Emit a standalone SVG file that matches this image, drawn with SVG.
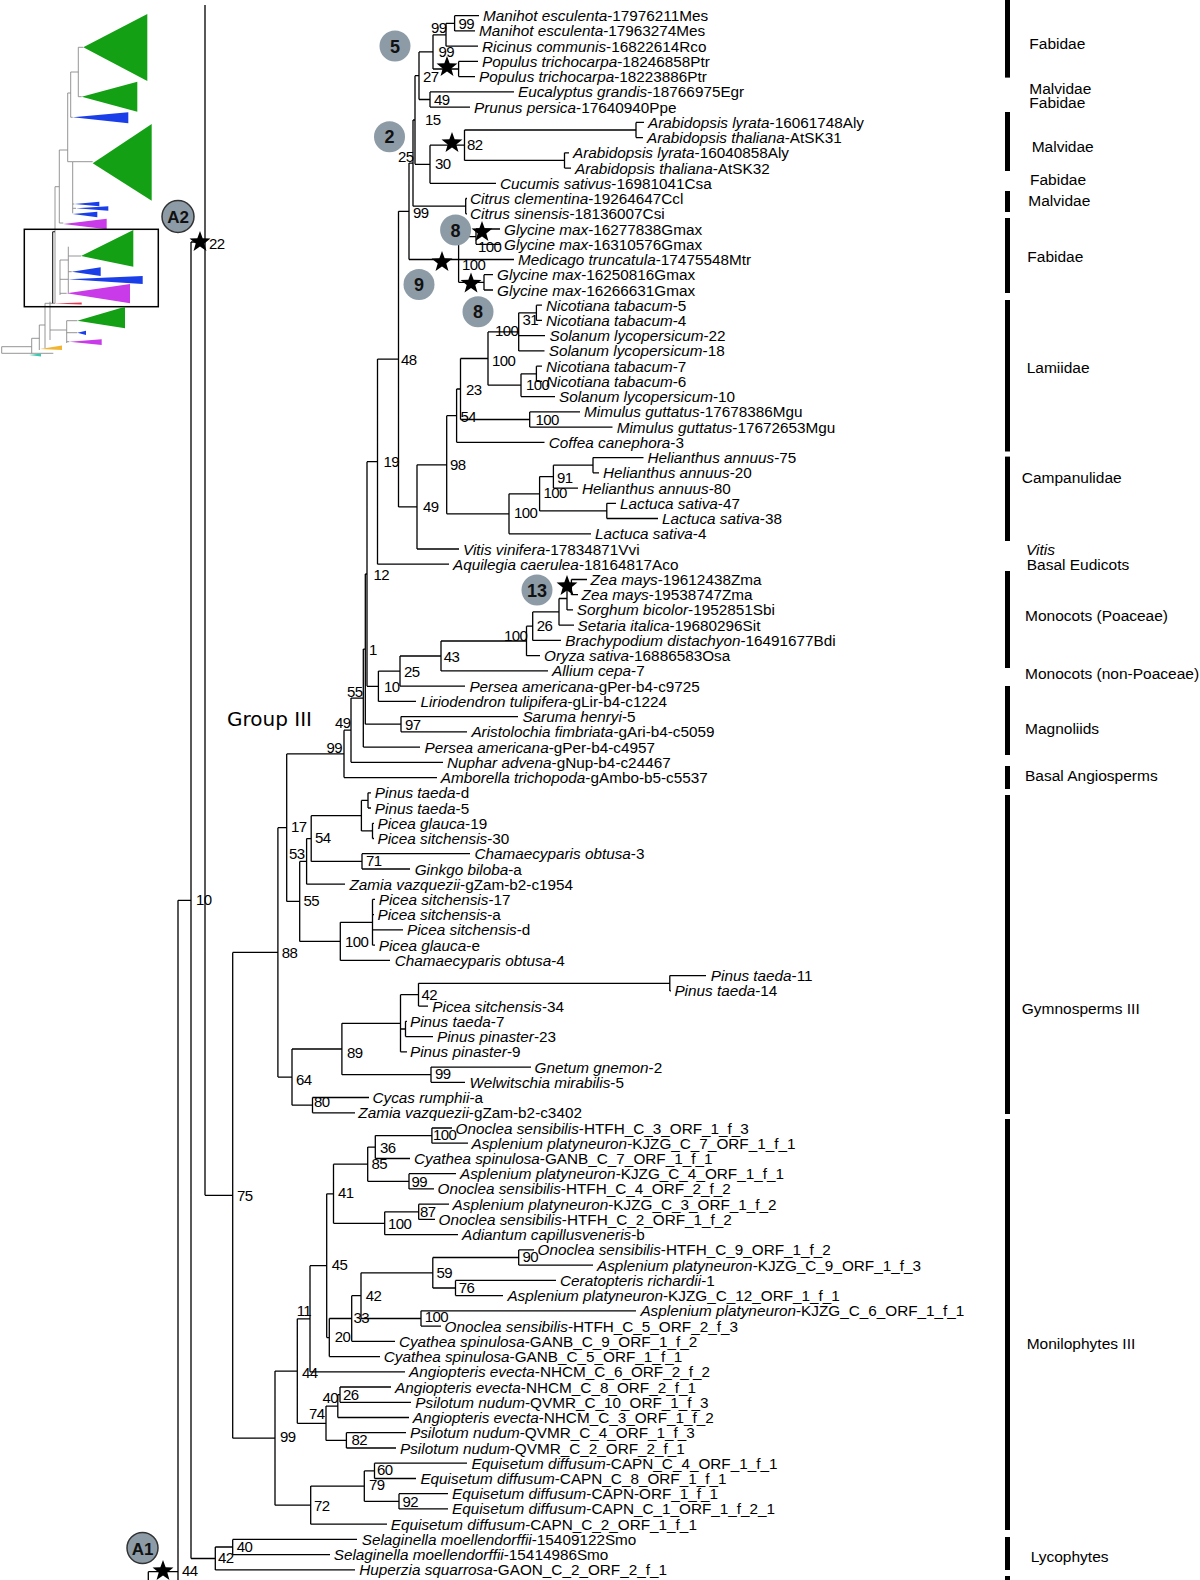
<svg xmlns="http://www.w3.org/2000/svg" width="1200" height="1580" viewBox="0 0 1200 1580">
<style>
.br{fill:none;stroke:#000;stroke-width:1.3}
.th{fill:none;stroke:#8a8a8a;stroke-width:0.9}
.l{font-family:"Liberation Sans",Arial,sans-serif;font-size:15.3px;fill:#000}
.i{font-style:italic}
.s{font-family:"Liberation Sans",Arial,sans-serif;font-size:15px;letter-spacing:-0.6px;fill:#000}
.c{font-family:"Liberation Sans",Arial,sans-serif;font-size:15.5px;fill:#000}
.bar{fill:#000}
.bd{fill:#8d9ba6}
.bdo{fill:#8d9ba6;stroke:#333;stroke-width:1.5}
.bt{font-family:"Liberation Sans",Arial,sans-serif;font-weight:bold;font-size:18px;text-anchor:middle;fill:#111}
.st{fill:#000}
.g{fill:#14a014}
.b{fill:#1a3ee8}
.m{fill:#c93be8}
</style>
<defs>
<path id="star" d="M0,-11 L2.645,-3.64 L10.46,-3.4 L4.28,1.39 L6.47,8.9 L0,4.5 L-6.47,8.9 L-4.28,1.39 L-10.46,-3.4 L-2.645,-3.64 Z"/>
</defs>

<g id="thumbnail">
<path class="th" d="M78.3,47.3V96.7 M78.3,47.3H83.3 M78.3,96.7H81.7 M70.7,72V117.3 M70.7,72H78.3 M70.7,117.3H72.7 M67.7,93V150 M67.7,93H70.7 M59.3,150V223 M59.3,150H67.7 M59.3,223H63.3 M72.7,161.7V213.3 M72.7,161.7H92.7 M67.7,150V161.7 M67.7,161.7H72.7 M72.7,204H74.3 M72.7,208.3H76 M72.7,213.3H72.7 M55,186.7V303.3 M55,186.7H59.3 M68.3,246.7V293.3 M68.3,256H81 M68.3,271.7H71.7 M60,260V295 M60,260H68.3 M60,279.3H68.3 M60,293.3H66.7 M53,303.3H55 M50,301.7V340 M45,303.3V348 M45,303.3H53 M39.3,325V350 M39.3,325H45 M31.7,338.3V353.3 M31.7,338.3H39.3 M1.7,346.7V353.3 M1.7,346.7H31.7 M1.7,353.3H53.3 M66.7,320.7V343 M66.7,320.7H77.3 M66.7,332.7H77.3 M66.7,341.7H69.3 M50,330H66.7"/>
<path d="M52.7,231.7V303.3 M52.7,231.7H55" fill="none" stroke="#111" stroke-width="1.1"/>
<polygon class="g" points="83.3,47.3 147.3,14 147.3,81"/>
<polygon class="g" points="81.7,96.7 137.3,81.7 137.3,111.7"/>
<polygon class="b" points="72.7,117.3 128.3,112.3 128.3,123.3"/>
<polygon class="g" points="92.7,163.3 151.7,124 151.7,200.7"/>
<polygon class="b" points="74.3,204 99.3,201.7 99.3,206.3"/>
<polygon class="b" points="76,208.3 108.3,206.3 108.3,210.7"/>
<polygon class="b" points="72.7,214 97.3,211.7 97.3,217.3"/>
<polygon class="m" points="63.3,224 106.7,218.7 106.7,229.3"/>
<rect x="24.3" y="229.3" width="134" height="77.4" fill="none" stroke="#000" stroke-width="1.5"/>
<polygon class="g" points="81,256 133.3,230 133.3,266.7"/>
<polygon class="b" points="71.7,271.7 100.7,267.3 100.7,276"/>
<polygon class="b" points="68.3,279.3 142.7,276 142.7,284"/>
<polygon class="m" points="66.7,293.3 130,284 130,303.3"/>
<polygon fill="#e8384f" points="53.3,303.4 81.7,302.6 81.7,304.6"/>
<polygon class="g" points="77.3,320.7 125,306.7 125,328.3"/>
<polygon class="b" points="77.3,332.7 86,330.7 86,335"/>
<polygon class="m" points="69.3,341.7 101.7,339.3 101.7,345"/>
<polygon fill="#f2b533" points="40,349 62,345.5 62,350"/>
<polygon fill="#3cc8b0" points="29,355 41,353.5 41,356.5"/>
</g>

<g id="connectors">
<path class="br" d="
M454.6,15.7V30.9 M454.6,15.7H479 M454.6,30.9H475
M446,23.3V46.2 M446,23.3H454.6 M446,46.2H478
M458.6,61.4V76.6 M458.6,61.4H478 M458.6,76.6H475
M433,34.8V69 M433,34.8H446 M433,69H458.6
M430,91.9V107.1 M430,91.9H514 M430,107.1H470
M419,51.9V99.5 M419,51.9H433 M419,99.5H430
M636,122.4V137.6 M636,122.4H644 M636,137.6H643
M564.5,152.8V168.1 M564.5,152.8H569 M564.5,168.1H571
M464.5,130V160.4 M464.5,130H636 M464.5,160.4H564.5
M430,145.2V183.3 M430,145.2H464.5 M430,183.3H496
M415,75.7V164.3 M415,75.7H419 M415,164.3H430
M465.7,198.5V213.8 M465.7,198.5H467 M465.7,213.8H467
M413,120V206.2 M413,120H415 M413,206.2H465.7
M476,229V244.3 M476,229H500 M476,244.3H500
M484,274.7V290 M484,274.7H493 M484,290H493
M458.6,236.6V282.3 M458.6,236.6H476 M458.6,259.5H514 M458.6,282.3H484
M409,163.1V259.5 M409,163.1H413 M409,259.5H458.6
M398.5,211.3V506.9 M398.5,211.3H409 M398.5,506.9H417
M536.4,305.2V320.4 M536.4,305.2H542 M536.4,320.4H542
M518.7,312.8V350.9 M518.7,312.8H536.4 M518.7,335.7H545 M518.7,350.9H544.5
M536.4,366.2V381.4 M536.4,366.2H542 M536.4,381.4H542
M521,373.8V396.6 M521,373.8H536.4 M521,396.6H555
M488,331.9V385.2 M488,331.9H518.7 M488,385.2H521
M529.7,411.9V427.1 M529.7,411.9H580 M529.7,427.1H612.5
M460.5,358.5V419.5 M460.5,358.5H488 M460.5,419.5H529.7
M456.6,389V442.3 M456.6,389H460.5 M456.6,442.3H544.5
M593,457.6V472.8 M593,457.6H643.5 M593,472.8H599
M553.4,465.2V488.1 M553.4,465.2H593 M553.4,488.1H578
M606.8,503.3V518.5 M606.8,503.3H616 M606.8,518.5H658
M539.6,476.6V510.9 M539.6,476.6H553.4 M539.6,510.9H606.8
M509,493.8V533.8 M509,493.8H539.6 M509,533.8H591
M446.7,415.7V513.8 M446.7,415.7H456.6 M446.7,513.8H509
M417,464.8V549 M417,464.8H446.7 M417,549H459
M377.5,359.1V564.2 M377.5,359.1H398.5 M377.5,564.2H449
M571.4,579.5V594.7 M571.4,579.5H587 M571.4,594.7H578
M567,587.1V609.9 M567,587.1H571.4 M567,609.9H573
M559,598.5V625.2 M559,598.5H567 M559,625.2H574
M532.7,611.9V640.4 M532.7,611.9H559 M532.7,640.4H561
M526.5,626.2V655.7 M526.5,626.2H532.7 M526.5,655.7H540
M441,641V670.9 M441,641H526.5 M441,670.9H548
M400,656V686.1 M400,656H441 M400,686.1H465
M378.4,671.1V701.4 M378.4,671.1H400 M378.4,701.4H416
M367,461.7V686.3 M367,461.7H377.5 M367,686.3H378.4
M401,716.6V731.8 M401,716.6H518 M401,731.8H467
M365.3,574V724.2 M365.3,574H367 M365.3,724.2H401
M363.3,649.1V747.1 M363.3,649.1H365.3 M363.3,747.1H420
M351,698.1V762.3 M351,698.1H363.3 M351,762.3H443
M344,730.2V777.6 M344,730.2H351 M344,777.6H437
M286.7,753.9V901.4 M286.7,753.9H344 M286.7,901.4H299.7
M368,792.8V808 M368,792.8H371 M368,808H371
M372.5,823.3V838.5 M372.5,823.3H374 M372.5,838.5H374
M361.4,800.4V830.9 M361.4,800.4H368 M361.4,830.9H372.5
M362,853.7V869 M362,853.7H470 M362,869H410
M311.2,815.7V861.4 M311.2,815.7H361.4 M311.2,861.4H362
M306.6,838.6V884.2 M306.6,838.6H311.2 M306.6,884.2H345
M372.5,899.4V945.2 M372.5,899.4H375 M372.5,914.7H374 M372.5,929.9H403 M372.5,945.2H375
M340.3,922.3V960.4 M340.3,922.3H372.5 M340.3,960.4H390
M299.7,861.4V941.4 M299.7,861.4H306.6 M299.7,941.4H340.3
M669.8,975.6V990.9 M669.8,975.6H706 M669.8,990.9H671
M418.5,983.3V1006.1 M418.5,983.3H669.8 M418.5,1006.1H428
M405.5,1021.3V1036.6 M405.5,1021.3H407 M405.5,1036.6H433
M400.5,994.7V1051.8 M400.5,994.7H418.5 M400.5,1029H405.5 M400.5,1051.8H407
M431,1067.1V1082.3 M431,1067.1H531 M431,1082.3H465
M341.9,1023.3V1074.7 M341.9,1023.3H400.5 M341.9,1074.7H431
M312.5,1097.5V1112.8 M312.5,1097.5H369 M312.5,1112.8H355
M292,1049V1105.2 M292,1049H341.9 M292,1105.2H312.5
M277.9,827.7V1077.1 M277.9,827.7H286.7 M277.9,1077.1H292
M232.7,952.4V1438.2 M232.7,952.4H277.9 M232.7,1438.2H275
M431.9,1128V1143.2 M431.9,1128H452 M431.9,1143.2H468
M375.3,1135.6V1158.5 M375.3,1135.6H431.9 M375.3,1158.5H410
M409,1173.7V1188.9 M409,1173.7H456 M409,1188.9H434
M367.7,1147.1V1181.3 M367.7,1147.1H375.3 M367.7,1181.3H409
M418.7,1204.2V1219.4 M418.7,1204.2H449 M418.7,1219.4H435
M384.7,1211.8V1234.7 M384.7,1211.8H418.7 M384.7,1234.7H458
M333.5,1164.2V1223.3 M333.5,1164.2H367.7 M333.5,1223.3H384.7
M518.7,1249.9V1265.1 M518.7,1249.9H534 M518.7,1265.1H593
M455.5,1280.4V1295.6 M455.5,1280.4H556 M455.5,1295.6H503
M432.8,1257.5V1288 M432.8,1257.5H518.7 M432.8,1288H455.5
M421,1310.8V1326.1 M421,1310.8H636 M421,1326.1H441
M361,1272.8V1318.5 M361,1272.8H432.8 M361,1318.5H421
M351.7,1295.7V1341.3 M351.7,1295.7H361 M351.7,1341.3H395
M329.3,1318.5V1356.6 M329.3,1318.5H351.7 M329.3,1356.6H380
M326.7,1193.8V1337.6 M326.7,1193.8H333.5 M326.7,1337.6H329.3
M310,1265.7V1371.8 M310,1265.7H326.7 M310,1371.8H405
M340,1387V1402.3 M340,1387H391 M340,1402.3H411
M337.8,1394.7V1417.5 M337.8,1394.7H340 M337.8,1417.5H409
M346.4,1432.7V1448 M346.4,1432.7H406 M346.4,1448H396
M326,1406.1V1440.4 M326,1406.1H337.8 M326,1440.4H346.4
M297.3,1318.8V1423.3 M297.3,1318.8H310 M297.3,1423.3H326
M374.5,1463.2V1478.5 M374.5,1463.2H467 M374.5,1478.5H416
M399,1493.7V1508.9 M399,1493.7H448 M399,1508.9H448
M364.3,1470.9V1501.3 M364.3,1470.9H374.5 M364.3,1501.3H399
M310.7,1486.1V1524.2 M310.7,1486.1H364.3 M310.7,1524.2H387
M275,1371.1V1505.2 M275,1371.1H297.3 M275,1505.2H310.7
M232.7,1539.4V1554.6 M232.7,1539.4H357 M232.7,1554.6H330
M215.3,1547V1569.9 M215.3,1547H232.7 M215.3,1569.9H355
M191,242V1558.5 M191,242H205 M191,1558.5H215.3
M205,5V1195.3 M205,1195.3H232.7
M178,900.3V1580 M178,900.3H191 M178,1571.7H148.3 M148.3,1571.7V1580
"/>
</g>

<g id="stars">
<use href="#star" class="st" x="447" y="67"/>
<use href="#star" class="st" x="452" y="143"/>
<use href="#star" class="st" x="482" y="232"/>
<use href="#star" class="st" x="442" y="262"/>
<use href="#star" class="st" x="471" y="283.5"/>
<use href="#star" class="st" x="567" y="586"/>
<use href="#star" class="st" x="200" y="242"/>
<use href="#star" class="st" x="163" y="1571"/>
</g>

<g id="badge-5"><circle class="bd" cx="395" cy="46" r="15.5"/><text class="bt" x="395" y="52.5">5</text></g>
<g id="badge-2"><circle class="bd" cx="389.5" cy="136.7" r="15.5"/><text class="bt" x="389.5" y="143.2">2</text></g>
<g id="badge-8a"><circle class="bd" cx="455.6" cy="230" r="15.5"/><text class="bt" x="455.6" y="236.5">8</text></g>
<g id="badge-9"><circle class="bd" cx="419" cy="284.5" r="15.5"/><text class="bt" x="419" y="291">9</text></g>
<g id="badge-8b"><circle class="bd" cx="478" cy="311.7" r="15.5"/><text class="bt" x="478" y="318.2">8</text></g>
<g id="badge-13"><circle class="bd" cx="537" cy="590" r="15.5"/><text class="bt" x="537" y="596.5">13</text></g>
<g id="badge-A2"><circle class="bdo" cx="178" cy="216.5" r="16"/><text class="bt" x="178" y="223" style="font-size:17px">A2</text></g>
<g id="badge-A1"><circle class="bdo" cx="142.5" cy="1548" r="15.5"/><text class="bt" x="142.5" y="1554.5" style="font-size:17px">A1</text></g>

<g id="group-label"><text x="227" y="725.5" style="font-family:'DejaVu Sans',sans-serif;font-size:20px">Group III</text></g>

<g id="support">
<text class="s" x="458.5" y="29">99</text>
<text class="s" x="431" y="32.5">99</text>
<text class="s" x="438.5" y="57">99</text>
<text class="s" x="423" y="82">27</text>
<text class="s" x="434" y="104.5">49</text>
<text class="s" x="425" y="125">15</text>
<text class="s" x="467" y="150">82</text>
<text class="s" x="435" y="168.5">30</text>
<text class="s" x="398" y="162">25</text>
<text class="s" x="413" y="218">99</text>
<text class="s" x="478" y="252">100</text>
<text class="s" x="462" y="270">100</text>
<text class="s" x="401" y="365">48</text>
<text class="s" x="522.6" y="325">31</text>
<text class="s" x="495" y="336">100</text>
<text class="s" x="492" y="365.7">100</text>
<text class="s" x="526" y="390">100</text>
<text class="s" x="466" y="395">23</text>
<text class="s" x="535.6" y="425">100</text>
<text class="s" x="460.5" y="422">54</text>
<text class="s" x="450" y="470">98</text>
<text class="s" x="557" y="483">91</text>
<text class="s" x="543.5" y="497.7">100</text>
<text class="s" x="514" y="518">100</text>
<text class="s" x="423" y="512">49</text>
<text class="s" x="383.5" y="467">19</text>
<text class="s" x="373.5" y="580">12</text>
<text class="s" x="536.7" y="631">26</text>
<text class="s" x="504" y="641">100</text>
<text class="s" x="443.7" y="661.7">43</text>
<text class="s" x="404" y="676.7">25</text>
<text class="s" x="384" y="692">10</text>
<text class="s" x="369" y="655">1</text>
<text class="s" x="347" y="697">55</text>
<text class="s" x="405" y="730">97</text>
<text class="s" x="335" y="728">49</text>
<text class="s" x="326.5" y="753">99</text>
<text class="s" x="291" y="832">17</text>
<text class="s" x="315" y="843">54</text>
<text class="s" x="289" y="859">53</text>
<text class="s" x="366" y="866">71</text>
<text class="s" x="303.6" y="906">55</text>
<text class="s" x="345" y="946.7">100</text>
<text class="s" x="281.7" y="957.7">88</text>
<text class="s" x="421.6" y="1000">42</text>
<text class="s" x="346.9" y="1057.7">89</text>
<text class="s" x="435" y="1079">99</text>
<text class="s" x="296" y="1085">64</text>
<text class="s" x="314" y="1106.7">80</text>
<text class="s" x="237" y="1201">75</text>
<text class="s" x="433" y="1140">100</text>
<text class="s" x="380" y="1153">36</text>
<text class="s" x="371.5" y="1169">85</text>
<text class="s" x="411.6" y="1186.7">99</text>
<text class="s" x="338" y="1198">41</text>
<text class="s" x="420" y="1216.7">87</text>
<text class="s" x="388" y="1229">100</text>
<text class="s" x="522.5" y="1261.7">90</text>
<text class="s" x="331.7" y="1270">45</text>
<text class="s" x="436.6" y="1277.7">59</text>
<text class="s" x="458.8" y="1293">76</text>
<text class="s" x="365.8" y="1301">42</text>
<text class="s" x="296.7" y="1315.6">11</text>
<text class="s" x="424.8" y="1321.7">100</text>
<text class="s" x="353.6" y="1323">33</text>
<text class="s" x="334.7" y="1342">20</text>
<text class="s" x="302" y="1377.7">44</text>
<text class="s" x="343" y="1400">26</text>
<text class="s" x="322.4" y="1403">40</text>
<text class="s" x="309" y="1419">74</text>
<text class="s" x="280" y="1442">99</text>
<text class="s" x="351.5" y="1445">82</text>
<text class="s" x="377" y="1475">60</text>
<text class="s" x="369" y="1490">79</text>
<text class="s" x="402.5" y="1506.7">92</text>
<text class="s" x="314" y="1511">72</text>
<text class="s" x="236.7" y="1552">40</text>
<text class="s" x="217.9" y="1563.3">42</text>
<text class="s" x="196" y="905">10</text>
<text class="s" x="209" y="248.5">22</text>
<text class="s" x="182" y="1576">44</text>
</g>

<g id="leaves">
<g id="t1"><text class="l" x="483" y="21.2"><tspan class="i">Manihot esculenta</tspan>-17976211Mes</text></g>
<g id="t2"><text class="l" x="479" y="36.4"><tspan class="i">Manihot esculenta</tspan>-17963274Mes</text></g>
<g id="t3"><text class="l" x="482" y="51.7"><tspan class="i">Ricinus communis</tspan>-16822614Rco</text></g>
<g id="t4"><text class="l" x="482" y="66.9"><tspan class="i">Populus trichocarpa</tspan>-18246858Ptr</text></g>
<g id="t5"><text class="l" x="479" y="82.2"><tspan class="i">Populus trichocarpa</tspan>-18223886Ptr</text></g>
<g id="t6"><text class="l" x="518" y="97.4"><tspan class="i">Eucalyptus grandis</tspan>-18766975Egr</text></g>
<g id="t7"><text class="l" x="474" y="112.6"><tspan class="i">Prunus persica</tspan>-17640940Ppe</text></g>
<g id="t8"><text class="l" x="648" y="127.9"><tspan class="i">Arabidopsis lyrata</tspan>-16061748Aly</text></g>
<g id="t9"><text class="l" x="647" y="143.1"><tspan class="i">Arabidopsis thaliana</tspan>-AtSK31</text></g>
<g id="t10"><text class="l" x="573" y="158.3"><tspan class="i">Arabidopsis lyrata</tspan>-16040858Aly</text></g>
<g id="t11"><text class="l" x="575" y="173.6"><tspan class="i">Arabidopsis thaliana</tspan>-AtSK32</text></g>
<g id="t12"><text class="l" x="500" y="188.8"><tspan class="i">Cucumis sativus</tspan>-16981041Csa</text></g>
<g id="t13"><text class="l" x="470" y="204"><tspan class="i">Citrus clementina</tspan>-19264647Ccl</text></g>
<g id="t14"><text class="l" x="470" y="219.3"><tspan class="i">Citrus sinensis</tspan>-18136007Csi</text></g>
<g id="t15"><text class="l" x="504" y="234.5"><tspan class="i">Glycine max</tspan>-16277838Gmax</text></g>
<g id="t16"><text class="l" x="504" y="249.8"><tspan class="i">Glycine max</tspan>-16310576Gmax</text></g>
<g id="t17"><text class="l" x="518" y="265"><tspan class="i">Medicago truncatula</tspan>-17475548Mtr</text></g>
<g id="t18"><text class="l" x="497" y="280.2"><tspan class="i">Glycine max</tspan>-16250816Gmax</text></g>
<g id="t19"><text class="l" x="497" y="295.5"><tspan class="i">Glycine max</tspan>-16266631Gmax</text></g>
<g id="t20"><text class="l" x="546" y="310.7"><tspan class="i">Nicotiana tabacum</tspan>-5</text></g>
<g id="t21"><text class="l" x="546" y="325.9"><tspan class="i">Nicotiana tabacum</tspan>-4</text></g>
<g id="t22"><text class="l" x="549.5" y="341.2"><tspan class="i">Solanum lycopersicum</tspan>-22</text></g>
<g id="t23"><text class="l" x="548.7" y="356.4"><tspan class="i">Solanum lycopersicum</tspan>-18</text></g>
<g id="t24"><text class="l" x="546" y="371.7"><tspan class="i">Nicotiana tabacum</tspan>-7</text></g>
<g id="t25"><text class="l" x="546" y="386.9"><tspan class="i">Nicotiana tabacum</tspan>-6</text></g>
<g id="t26"><text class="l" x="559" y="402.1"><tspan class="i">Solanum lycopersicum</tspan>-10</text></g>
<g id="t27"><text class="l" x="584" y="417.4"><tspan class="i">Mimulus guttatus</tspan>-17678386Mgu</text></g>
<g id="t28"><text class="l" x="616.7" y="432.6"><tspan class="i">Mimulus guttatus</tspan>-17672653Mgu</text></g>
<g id="t29"><text class="l" x="548.7" y="447.8"><tspan class="i">Coffea canephora</tspan>-3</text></g>
<g id="t30"><text class="l" x="647.5" y="463.1"><tspan class="i">Helianthus annuus</tspan>-75</text></g>
<g id="t31"><text class="l" x="603" y="478.3"><tspan class="i">Helianthus annuus</tspan>-20</text></g>
<g id="t32"><text class="l" x="582" y="493.6"><tspan class="i">Helianthus annuus</tspan>-80</text></g>
<g id="t33"><text class="l" x="620" y="508.8"><tspan class="i">Lactuca sativa</tspan>-47</text></g>
<g id="t34"><text class="l" x="662" y="524"><tspan class="i">Lactuca sativa</tspan>-38</text></g>
<g id="t35"><text class="l" x="595" y="539.3"><tspan class="i">Lactuca sativa</tspan>-4</text></g>
<g id="t36"><text class="l" x="463" y="554.5"><tspan class="i">Vitis vinifera</tspan>-17834871Vvi</text></g>
<g id="t37"><text class="l" x="453" y="569.7"><tspan class="i">Aquilegia caerulea</tspan>-18164817Aco</text></g>
<g id="t38"><text class="l" x="590.6" y="585"><tspan class="i">Zea mays</tspan>-19612438Zma</text></g>
<g id="t39"><text class="l" x="581.6" y="600.2"><tspan class="i">Zea mays</tspan>-19538747Zma</text></g>
<g id="t40"><text class="l" x="576.7" y="615.4"><tspan class="i">Sorghum bicolor</tspan>-1952851Sbi</text></g>
<g id="t41"><text class="l" x="577.6" y="630.7"><tspan class="i">Setaria italica</tspan>-19680296Sit</text></g>
<g id="t42"><text class="l" x="565.3" y="645.9"><tspan class="i">Brachypodium distachyon</tspan>-16491677Bdi</text></g>
<g id="t43"><text class="l" x="544" y="661.2"><tspan class="i">Oryza sativa</tspan>-16886583Osa</text></g>
<g id="t44"><text class="l" x="552" y="676.4"><tspan class="i">Allium cepa</tspan>-7</text></g>
<g id="t45"><text class="l" x="469.4" y="691.6"><tspan class="i">Persea americana</tspan>-gPer-b4-c9725</text></g>
<g id="t46"><text class="l" x="420.4" y="706.9"><tspan class="i">Liriodendron tulipifera</tspan>-gLir-b4-c1224</text></g>
<g id="t47"><text class="l" x="522.4" y="722.1"><tspan class="i">Saruma henryi</tspan>-5</text></g>
<g id="t48"><text class="l" x="471.4" y="737.3"><tspan class="i">Aristolochia fimbriata</tspan>-gAri-b4-c5059</text></g>
<g id="t49"><text class="l" x="424.5" y="752.6"><tspan class="i">Persea americana</tspan>-gPer-b4-c4957</text></g>
<g id="t50"><text class="l" x="447" y="767.8"><tspan class="i">Nuphar advena</tspan>-gNup-b4-c24467</text></g>
<g id="t51"><text class="l" x="440.8" y="783.1"><tspan class="i">Amborella trichopoda</tspan>-gAmbo-b5-c5537</text></g>
<g id="t52"><text class="l" x="374.8" y="798.3"><tspan class="i">Pinus taeda</tspan>-d</text></g>
<g id="t53"><text class="l" x="374.8" y="813.5"><tspan class="i">Pinus taeda</tspan>-5</text></g>
<g id="t54"><text class="l" x="377.5" y="828.8"><tspan class="i">Picea glauca</tspan>-19</text></g>
<g id="t55"><text class="l" x="377.5" y="844"><tspan class="i">Picea sitchensis</tspan>-30</text></g>
<g id="t56"><text class="l" x="474.4" y="859.2"><tspan class="i">Chamaecyparis obtusa</tspan>-3</text></g>
<g id="t57"><text class="l" x="414.7" y="874.5"><tspan class="i">Ginkgo biloba</tspan>-a</text></g>
<g id="t58"><text class="l" x="349.5" y="889.7"><tspan class="i">Zamia vazquezii</tspan>-gZam-b2-c1954</text></g>
<g id="t59"><text class="l" x="378.7" y="904.9"><tspan class="i">Picea sitchensis</tspan>-17</text></g>
<g id="t60"><text class="l" x="377.5" y="920.2"><tspan class="i">Picea sitchensis</tspan>-a</text></g>
<g id="t61"><text class="l" x="407" y="935.4"><tspan class="i">Picea sitchensis</tspan>-d</text></g>
<g id="t62"><text class="l" x="378.7" y="950.7"><tspan class="i">Picea glauca</tspan>-e</text></g>
<g id="t63"><text class="l" x="394.7" y="965.9"><tspan class="i">Chamaecyparis obtusa</tspan>-4</text></g>
<g id="t64"><text class="l" x="710.8" y="981.1"><tspan class="i">Pinus taeda</tspan>-11</text></g>
<g id="t65"><text class="l" x="674.4" y="996.4"><tspan class="i">Pinus taeda</tspan>-14</text></g>
<g id="t66"><text class="l" x="432.3" y="1011.6"><tspan class="i">Picea sitchensis</tspan>-34</text></g>
<g id="t67"><text class="l" x="410" y="1026.8"><tspan class="i">Pinus taeda</tspan>-7</text></g>
<g id="t68"><text class="l" x="437" y="1042.1"><tspan class="i">Pinus pinaster</tspan>-23</text></g>
<g id="t69"><text class="l" x="410" y="1057.3"><tspan class="i">Pinus pinaster</tspan>-9</text></g>
<g id="t70"><text class="l" x="534.6" y="1072.6"><tspan class="i">Gnetum gnemon</tspan>-2</text></g>
<g id="t71"><text class="l" x="469.5" y="1087.8"><tspan class="i">Welwitschia mirabilis</tspan>-5</text></g>
<g id="t72"><text class="l" x="372.5" y="1103"><tspan class="i">Cycas rumphii</tspan>-a</text></g>
<g id="t73"><text class="l" x="358.3" y="1118.3"><tspan class="i">Zamia vazquezii</tspan>-gZam-b2-c3402</text></g>
<g id="t74"><text class="l" x="455.5" y="1133.5"><tspan class="i">Onoclea sensibilis</tspan>-HTFH_C_3_ORF_1_f_3</text></g>
<g id="t75"><text class="l" x="471.5" y="1148.7"><tspan class="i">Asplenium platyneuron</tspan>-KJZG_C_7_ORF_1_f_1</text></g>
<g id="t76"><text class="l" x="414" y="1164"><tspan class="i">Cyathea spinulosa</tspan>-GANB_C_7_ORF_1_f_1</text></g>
<g id="t77"><text class="l" x="460" y="1179.2"><tspan class="i">Asplenium platyneuron</tspan>-KJZG_C_4_ORF_1_f_1</text></g>
<g id="t78"><text class="l" x="437.5" y="1194.4"><tspan class="i">Onoclea sensibilis</tspan>-HTFH_C_4_ORF_2_f_2</text></g>
<g id="t79"><text class="l" x="452.6" y="1209.7"><tspan class="i">Asplenium platyneuron</tspan>-KJZG_C_3_ORF_1_f_2</text></g>
<g id="t80"><text class="l" x="438.5" y="1224.9"><tspan class="i">Onoclea sensibilis</tspan>-HTFH_C_2_ORF_1_f_2</text></g>
<g id="t81"><text class="l" x="462" y="1240.2"><tspan class="i">Adiantum capillusveneris</tspan>-b</text></g>
<g id="t82"><text class="l" x="537.5" y="1255.4"><tspan class="i">Onoclea sensibilis</tspan>-HTFH_C_9_ORF_1_f_2</text></g>
<g id="t83"><text class="l" x="597" y="1270.6"><tspan class="i">Asplenium platyneuron</tspan>-KJZG_C_9_ORF_1_f_3</text></g>
<g id="t84"><text class="l" x="560" y="1285.9"><tspan class="i">Ceratopteris richardii</tspan>-1</text></g>
<g id="t85"><text class="l" x="507.4" y="1301.1"><tspan class="i">Asplenium platyneuron</tspan>-KJZG_C_12_ORF_1_f_1</text></g>
<g id="t86"><text class="l" x="640.4" y="1316.3"><tspan class="i">Asplenium platyneuron</tspan>-KJZG_C_6_ORF_1_f_1</text></g>
<g id="t87"><text class="l" x="444.6" y="1331.6"><tspan class="i">Onoclea sensibilis</tspan>-HTFH_C_5_ORF_2_f_3</text></g>
<g id="t88"><text class="l" x="398.9" y="1346.8"><tspan class="i">Cyathea spinulosa</tspan>-GANB_C_9_ORF_1_f_2</text></g>
<g id="t89"><text class="l" x="383.7" y="1362.1"><tspan class="i">Cyathea spinulosa</tspan>-GANB_C_5_ORF_1_f_1</text></g>
<g id="t90"><text class="l" x="409" y="1377.3"><tspan class="i">Angiopteris evecta</tspan>-NHCM_C_6_ORF_2_f_2</text></g>
<g id="t91"><text class="l" x="395" y="1392.5"><tspan class="i">Angiopteris evecta</tspan>-NHCM_C_8_ORF_2_f_1</text></g>
<g id="t92"><text class="l" x="415.3" y="1407.8"><tspan class="i">Psilotum nudum</tspan>-QVMR_C_10_ORF_1_f_3</text></g>
<g id="t93"><text class="l" x="412.8" y="1423"><tspan class="i">Angiopteris evecta</tspan>-NHCM_C_3_ORF_1_f_2</text></g>
<g id="t94"><text class="l" x="410" y="1438.2"><tspan class="i">Psilotum nudum</tspan>-QVMR_C_4_ORF_1_f_3</text></g>
<g id="t95"><text class="l" x="400" y="1453.5"><tspan class="i">Psilotum nudum</tspan>-QVMR_C_2_ORF_2_f_1</text></g>
<g id="t96"><text class="l" x="471.4" y="1468.7"><tspan class="i">Equisetum diffusum</tspan>-CAPN_C_4_ORF_1_f_1</text></g>
<g id="t97"><text class="l" x="420.4" y="1484"><tspan class="i">Equisetum diffusum</tspan>-CAPN_C_8_ORF_1_f_1</text></g>
<g id="t98"><text class="l" x="452" y="1499.2"><tspan class="i">Equisetum diffusum</tspan>-CAPN-ORF_1_f_1</text></g>
<g id="t99"><text class="l" x="452" y="1514.4"><tspan class="i">Equisetum diffusum</tspan>-CAPN_C_1_ORF_1_f_2_1</text></g>
<g id="t100"><text class="l" x="390.8" y="1529.7"><tspan class="i">Equisetum diffusum</tspan>-CAPN_C_2_ORF_1_f_1</text></g>
<g id="t101"><text class="l" x="361.7" y="1544.9"><tspan class="i">Selaginella moellendorffii</tspan>-15409122Smo</text></g>
<g id="t102"><text class="l" x="333.7" y="1560.1"><tspan class="i">Selaginella moellendorffii</tspan>-15414986Smo</text></g>
<g id="t103"><text class="l" x="359.2" y="1575.4"><tspan class="i">Huperzia squarrosa</tspan>-GAON_C_2_ORF_2_f_1</text></g>
</g>

<g id="clades">
<rect class="bar" x="1005" y="0" width="5" height="77.6"/>
<rect class="bar" x="1005" y="112" width="5" height="59"/>
<rect class="bar" x="1005" y="191" width="5" height="21"/>
<rect class="bar" x="1005" y="218" width="5" height="75"/>
<rect class="bar" x="1005" y="300" width="5" height="151.5"/>
<rect class="bar" x="1005" y="456.6" width="5" height="84.4"/>
<rect class="bar" x="1005" y="571" width="5" height="97"/>
<rect class="bar" x="1005" y="686" width="5" height="69"/>
<rect class="bar" x="1005" y="766" width="5" height="23"/>
<rect class="bar" x="1005" y="795" width="5" height="319"/>
<rect class="bar" x="1005" y="1119" width="5" height="411"/>
<rect class="bar" x="1005" y="1537" width="5" height="33"/>
<rect class="bar" x="1005" y="1576" width="5" height="4"/>
<text class="c" x="1029.3" y="94">Malvidae</text>
<text class="c" x="1029.3" y="48.9">Fabidae</text>
<text class="c" x="1029.3" y="107.8">Fabidae</text>
<text class="c" x="1031.7" y="151.9">Malvidae</text>
<text class="c" x="1030" y="185.1">Fabidae</text>
<text class="c" x="1028.3" y="206">Malvidae</text>
<text class="c" x="1027.3" y="261.5">Fabidae</text>
<text class="c" x="1026.7" y="372.8">Lamiidae</text>
<text class="c" x="1021.7" y="482.5">Campanulidae</text>
<text class="c i" x="1026" y="554.8">Vitis</text>
<text class="c" x="1026.7" y="569.5">Basal Eudicots</text>
<text class="c" x="1025" y="621.3">Monocots (Poaceae)</text>
<text class="c" x="1025" y="679">Monocots (non-Poaceae)</text>
<text class="c" x="1025" y="734.1">Magnoliids</text>
<text class="c" x="1025" y="781">Basal Angiosperms</text>
<text class="c" x="1021.7" y="1014">Gymnosperms III</text>
<text class="c" x="1026.7" y="1349.3">Monilophytes III</text>
<text class="c" x="1030.7" y="1562">Lycophytes</text>
</g>
</svg>
